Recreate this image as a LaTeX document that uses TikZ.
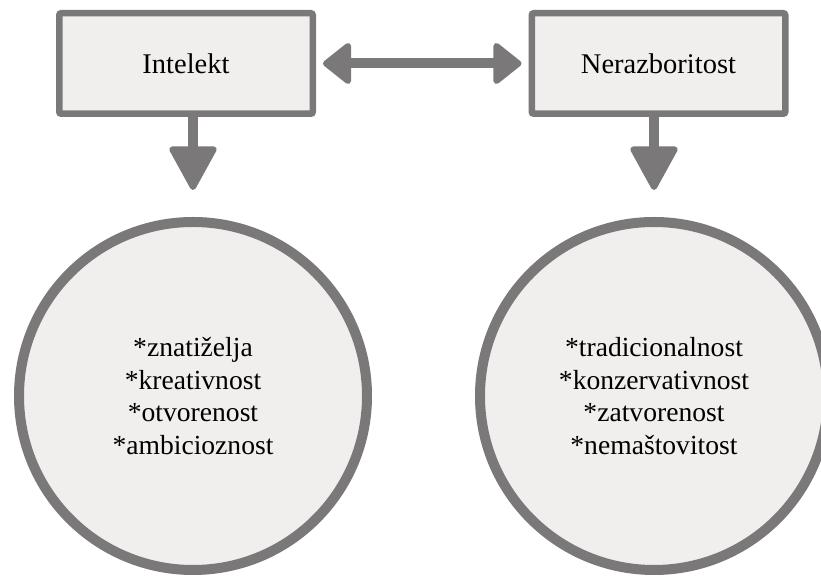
\documentclass[tikz,border=0pt]{standalone}
\usepackage{fontspec}
\setmainfont{Liberation Serif}
\usetikzlibrary{arrows.meta, positioning}
\definecolor{rub}{RGB}{122,120,121}
\definecolor{pozadina}{RGB}{240,239,238}

\begin{document}
\begin{tikzpicture}[
            x=0.5pt, y=-0.5pt,
            kutija/.style = {rectangle, draw=rub, fill=pozadina, line width=3.25pt, rounded corners=1pt,
                             minimum width=126.75pt, minimum height=50.25pt, font=\fontsize{14.25}{17}\selectfont},
            krug/.style = {circle, draw=rub, fill=pozadina, line width=5pt, minimum size=174pt, align=center,
                           font=\fontsize{13.8}{16.3}\selectfont},
            dvostruka/.style = {draw=rub, line width=5pt, {Triangle[width=23pt, length=15pt, line width=3pt, round]}-{Triangle[width=23pt, length=15pt, line width=3pt, round]}},
            dolje/.style = {draw=rub, line width=4.75pt, -{Triangle[width=25pt, length=23.5pt, line width=3pt, round]}},
        ]

            \useasboundingbox (0,0) rectangle (821,576);

            % Boxes
            \node[kutija] (intelekt) at (186,63.5) {Intelekt};
            \node[kutija] (nerazb) at (658.5,63.5) {Nerazboritost};

            % Circles
            \node[krug] (lijevi) at (193,396) {*znatiželja\\*kreativnost\\*otvorenost\\*ambicioznost};
            \node[krug] (desni) at (654,396) {*tradicionalnost\\*konzervativnost\\*zatvorenost\\*nemaštovitost};

            % Arrows
            \draw[dvostruka, shorten <=3.5pt, shorten >=3.5pt] (intelekt.east) -- (nerazb.west);
            \draw[dolje, shorten >=13.5pt] (lijevi.north |- intelekt.south) -- (lijevi.north);
            \draw[dolje, shorten >=13.5pt] (desni.north |- nerazb.south) -- (desni.north);

        \end{tikzpicture}
\end{document}
